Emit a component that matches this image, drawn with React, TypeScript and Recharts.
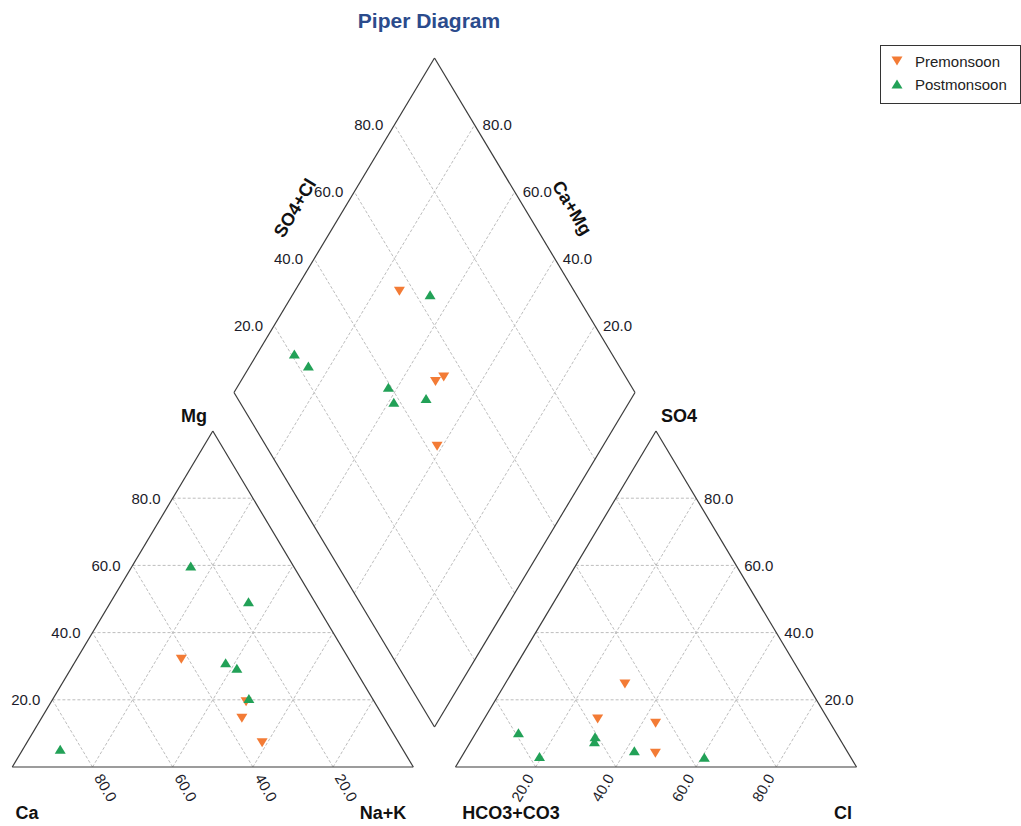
import React from "react";
import { ScatterChart, Scatter, XAxis, YAxis, ReferenceLine, Customized } from "recharts";

// cation / anion percentages per sample
const premCa = [41.8, 32.0, 35.5, 34.1];
const premMg = [32.1, 19.4, 14.5, 7.2];
const premNaK = [26.1, 48.6, 50.0, 58.7];
const premHCO3 = [43.6, 48.1, 45.4, 57.4];
const premSO4 = [13.0, 4.1, 24.7, 14.3];
const premCl = [43.4, 47.8, 29.9, 28.3];

const postCa = [85.4, 25.6, 16.5, 31.3, 29.3, 30.8];
const postMg = [5.3, 59.8, 49.2, 31.0, 29.4, 20.4];
const postNaK = [9.3, 14.6, 34.3, 37.7, 41.3, 48.8];
const postHCO3 = [79.2, 77.5, 36.5, 60.7, 61.6, 53.0];
const postSO4 = [10.2, 3.1, 2.9, 9.0, 7.5, 4.8];
const postCl = [10.6, 19.4, 60.6, 30.3, 30.9, 42.2];

const ticks = [20, 40, 60, 80];

const W = 1021;
const H = 826;
const FONT = "'Liberation Sans', Arial, sans-serif";
const PRE_COLOR = "#F37B35";
const POST_COLOR = "#22A157";

// layout of the three panels (px in chart space)
const SX = 4.01;
const SV = 3.36;
const L0 = { x: 12.3, y: 767 };
const R0 = { x: 455.5, y: 767 };
const D0 = { x: 434.5, y: 727 };
const DH = 2.005;
const DV = 3.345;

const catPos = (mg: number, nak: number) => ({ x: L0.x + (nak + mg / 2) * SX, y: L0.y - mg * SV });
const anPos = (so4: number, cl: number) => ({ x: R0.x + (cl + so4 / 2) * SX, y: R0.y - so4 * SV });
const diaPos = (camg: number, so4cl: number) => ({ x: D0.x + (so4cl - camg) * DH, y: D0.y - (camg + so4cl) * DV });

type Pt = { x: number; y: number };

function project(ca: number[], mg: number[], nak: number[], hco3: number[], so4: number[], cl: number[]) {
  const pts: Pt[] = [];
  ca.forEach((_, i) => {
    pts.push(catPos(mg[i], nak[i]));
    pts.push(diaPos(ca[i] + mg[i], so4[i] + cl[i]));
    pts.push(anPos(so4[i], cl[i]));
  });
  void hco3;
  return pts;
}

const prePts = project(premCa, premMg, premNaK, premHCO3, premSO4, premCl);
const postPts = project(postCa, postMg, postNaK, postHCO3, postSO4, postCl);

const outline: [Pt, Pt][] = [];
const grid: [Pt, Pt][] = [];
const poly = (ps: Pt[]) => ps.forEach((p, i) => outline.push([p, ps[(i + 1) % ps.length]]));
poly([catPos(0, 0), catPos(0, 100), catPos(100, 0)]);
poly([anPos(0, 0), anPos(0, 100), anPos(100, 0)]);
poly([diaPos(0, 0), diaPos(100, 0), diaPos(100, 100), diaPos(0, 100)]);
ticks.forEach(t => {
  grid.push([catPos(t, 0), catPos(t, 100 - t)]);
  grid.push([catPos(0, t), catPos(100 - t, t)]);
  grid.push([catPos(0, 100 - t), catPos(100 - t, 0)]);
  grid.push([anPos(t, 0), anPos(t, 100 - t)]);
  grid.push([anPos(0, t), anPos(100 - t, t)]);
  grid.push([anPos(0, 100 - t), anPos(100 - t, 0)]);
  grid.push([diaPos(t, 0), diaPos(t, 100)]);
  grid.push([diaPos(0, t), diaPos(100, t)]);
});

const triShape = (up: boolean, color: string) => (props: any) => {
  const { cx, cy } = props;
  const d = up
    ? `M${cx},${cy - 4.5}L${cx + 5.5},${cy + 4.5}L${cx - 5.5},${cy + 4.5}Z`
    : `M${cx},${cy + 4.5}L${cx + 5.5},${cy - 4.5}L${cx - 5.5},${cy - 4.5}Z`;
  return <path d={d} fill={color} />;
};

const tickStyle = { fontFamily: FONT, fontSize: 15, fill: "#1c1c2a" };
const titleStyle = { fontFamily: FONT, fontSize: 18, fontWeight: 700, fill: "#111" };

function Labels() {
  const f = (t: number) => t.toFixed(1);
  return (
    <g>
      <text x={429} y={20} textAnchor="middle" dominantBaseline="central"
        style={{ fontFamily: FONT, fontSize: 21, fontWeight: 700, fill: "#2B4B8C" }}>Piper Diagram</text>
      {ticks.map(t => {
        const a = catPos(t, 0);
        const b = catPos(0, 100 - t);
        const c = anPos(0, t);
        const d = anPos(t, 100 - t);
        const e = diaPos(100, t);
        const g = diaPos(t, 100);
        return (
          <g key={t}>
            <text x={a.x - 12} y={a.y} textAnchor="end" dominantBaseline="central" style={tickStyle}>{f(t)}</text>
            <text x={b.x + 6} y={b.y + 8} textAnchor="start" dominantBaseline="central" style={tickStyle}
              transform={`rotate(60 ${b.x + 6} ${b.y + 8})`}>{f(t)}</text>
            <text x={c.x - 6} y={c.y + 8} textAnchor="end" dominantBaseline="central" style={tickStyle}
              transform={`rotate(-60 ${c.x - 6} ${c.y + 8})`}>{f(t)}</text>
            <text x={d.x + 8} y={d.y} textAnchor="start" dominantBaseline="central" style={tickStyle}>{f(t)}</text>
            <text x={e.x - 11} y={e.y} textAnchor="end" dominantBaseline="central" style={tickStyle}>{f(t)}</text>
            <text x={g.x + 8} y={g.y} textAnchor="start" dominantBaseline="central" style={tickStyle}>{f(t)}</text>
          </g>
        );
      })}
      <text x={194} y={416} textAnchor="middle" dominantBaseline="central" style={titleStyle}>Mg</text>
      <text x={679} y={416} textAnchor="middle" dominantBaseline="central" style={titleStyle}>SO4</text>
      <text x={27} y={813} textAnchor="middle" dominantBaseline="central" style={titleStyle}>Ca</text>
      <text x={383} y={813} textAnchor="middle" dominantBaseline="central" style={titleStyle}>Na+K</text>
      <text x={511} y={813} textAnchor="middle" dominantBaseline="central" style={titleStyle}>HCO3+CO3</text>
      <text x={843} y={813} textAnchor="middle" dominantBaseline="central" style={titleStyle}>Cl</text>
      <text x={295} y={208} textAnchor="middle" dominantBaseline="central" style={titleStyle}
        transform="rotate(-59 295 208)">SO4+Cl</text>
      <text x={572} y={208} textAnchor="middle" dominantBaseline="central" style={titleStyle}
        transform="rotate(59 572 208)">Ca+Mg</text>
    </g>
  );
}

function LegendBox() {
  const row = (label: string, up: boolean, color: string, top: number) => (
    <div style={{ position: "absolute", left: 0, top, height: 20, display: "flex", alignItems: "center" }}>
      <svg width={12} height={12} style={{ marginLeft: 10 }}>
        <path d={up ? "M6,1.5L11.5,10.5L0.5,10.5Z" : "M6,10.5L11.5,1.5L0.5,1.5Z"} fill={color} />
      </svg>
      <span style={{ marginLeft: 12, fontSize: 15, color: "#222" }}>{label}</span>
    </div>
  );
  return (
    <div style={{
      position: "absolute", left: 880, top: 45, width: 139, height: 57,
      border: "1px solid #333", background: "#fff", fontFamily: FONT,
    }}>
      {row("Premonsoon", false, PRE_COLOR, 5)}
      {row("Postmonsoon", true, POST_COLOR, 28)}
    </div>
  );
}

export default function App() {
  return (
    <div style={{ position: "absolute", left: 0, top: 0, width: W, height: H, background: "#fff" }}>
      <ScatterChart width={W} height={H} margin={{ top: 0, right: 0, bottom: 0, left: 0 }}>
        <XAxis type="number" dataKey="x" domain={[0, W]} hide allowDataOverflow />
        <YAxis type="number" dataKey="y" domain={[0, H]} reversed hide allowDataOverflow />
        {grid.map(([p, q], i) => (
          <ReferenceLine key={`g${i}`} segment={[p, q]} stroke="#bdbdbd" strokeDasharray="3 2" strokeWidth={1} ifOverflow="visible" />
        ))}
        {outline.map(([p, q], i) => (
          <ReferenceLine key={`o${i}`} segment={[p, q]} stroke="#3a3a3a" strokeWidth={1.2} ifOverflow="visible" />
        ))}
        <Customized component={Labels} />
        <Scatter name="Premonsoon" data={prePts} shape={triShape(false, PRE_COLOR)} isAnimationActive={false} />
        <Scatter name="Postmonsoon" data={postPts} shape={triShape(true, POST_COLOR)} isAnimationActive={false} />
      </ScatterChart>
      <LegendBox />
    </div>
  );
}
